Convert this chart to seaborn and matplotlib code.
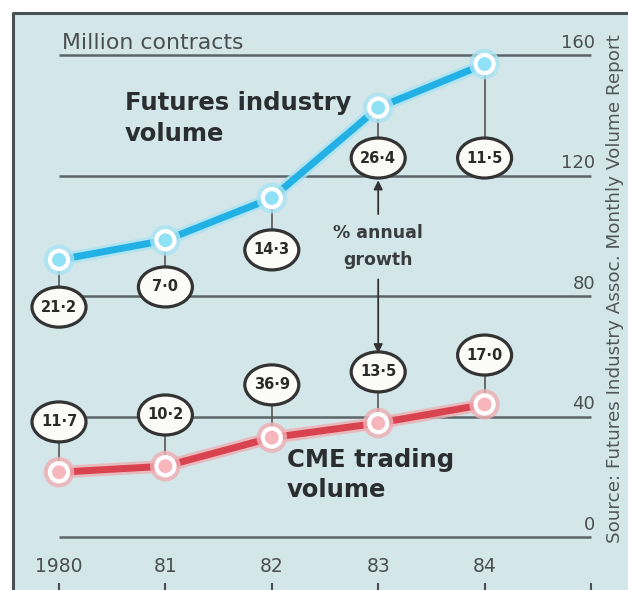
import matplotlib
matplotlib.use("Agg")
import matplotlib.pyplot as plt
import matplotlib.patheffects as pe
from matplotlib.patches import Ellipse, Rectangle
import pandas as pd
import seaborn as sns

# ---- data ----
years = [1980, 1981, 1982, 1983, 1984]
year_labels = ["1980", "81", "82", "83", "84"]
futures_volume = [92.0, 98.5, 112.5, 142.5, 157.0]
cme_volume = [21.5, 23.5, 33.0, 37.8, 44.0]
futures_growth = ["21·2", "7·0", "14·3", "26·4", "11·5"]
cme_growth = ["11·7", "10·2", "36·9", "13·5", "17·0"]
y_ticks = [0, 40, 80, 120, 160]

# ---- layout (bubble centres, in value units) ----
futures_bubble_y = [76.3, 83.0, 95.3, 125.8, 125.8]
cme_bubble_y = [38.2, 40.5, 50.5, 54.8, 60.4]

sns.set_theme(style="white")
plt.rcParams["font.family"] = ["DejaVu Sans"]

W, H = 628, 590
fig = plt.figure(figsize=(W / 100, H / 100), dpi=100)
fig.patch.set_facecolor("white")
ax = fig.add_axes([0, 0, 1, 1])
x0px, pxyr = 59.0, 106.4
y0px, pxu = 537.0, 3.0125
ax.set_xlim(1980 - x0px / pxyr, 1980 + (W - x0px) / pxyr)
ax.set_ylim(-(H - y0px) / pxu, y0px / pxu)
ax.axis("off")

# panel background + border
bx, by = 13 / W, 1 - 13 / H
ax.add_patch(Rectangle((bx, 0), 1 - bx, by, transform=ax.transAxes,
                       facecolor="#d3e6ea", edgecolor="none", zorder=0))
ax.plot([bx, bx, 1], [0, by, by], transform=ax.transAxes, color="#4a5256",
        lw=2.2, zorder=1, solid_capstyle="butt")

grey = "#4a4f52"
# grid lines and value labels
ax.hlines(y_ticks, 1980, 1985, color="#5b6569", lw=1.8, zorder=1)
for v in y_ticks:
    ax.text(1985.04, v + 1.0, str(v), ha="right", va="bottom", fontsize=13,
            color=grey, zorder=2)

ax.text(1980.03, 162.0, "Million contracts", ha="left", va="baseline",
        fontsize=15.8, color=grey, zorder=2)

# x labels and ticks
for yr, lab in zip(years, year_labels):
    ax.text(yr, -9.8, lab, ha="center", va="center", fontsize=13.5,
            color=grey, zorder=2)
ax.vlines(years + [1985], -15.3, -17.6, color=grey, lw=1.5, zorder=2)

# lines
df = pd.DataFrame({
    "year": years * 2,
    "volume": futures_volume + cme_volume,
    "series": ["Futures industry"] * 5 + ["CME"] * 5,
})
palette = {"Futures industry": "#22b1e4", "CME": "#d8434f"}
sns.lineplot(data=df, x="year", y="volume", hue="series", palette=palette,
             lw=5, marker="o", markersize=13, markeredgewidth=3,
             legend=False, ax=ax, zorder=5)
face = {"Futures industry": "#8fe2f6", "CME": "#f7b6bb"}
halo = {"Futures industry": "#a9e3f2", "CME": "#eeb0b4"}
for line, s in zip(ax.get_lines()[-2:], ["Futures industry", "CME"]):
    line.set_markerfacecolor(face[s])
    line.set_path_effects([pe.Stroke(linewidth=9, foreground=halo[s], alpha=0.8),
                           pe.Normal()])

# bubbles
bw, bh = 54 / pxyr, 40 / pxu


def bubble(x, y, txt):
    ax.add_patch(Ellipse((x, y), bw, bh, facecolor="#fbfbf7",
                         edgecolor="#333333", lw=2.3, zorder=6))
    ax.text(x, y, txt, ha="center", va="center", fontsize=10.5,
            fontweight="bold", color="#2a2a2a", zorder=7)


for yr, v, by_, t in zip(years, futures_volume, futures_bubble_y, futures_growth):
    ax.plot([yr, yr], [v, by_ + bh / 2], color="#555", lw=1.2, zorder=4)
    bubble(yr, by_, t)
for yr, v, by_, t in zip(years, cme_volume, cme_bubble_y, cme_growth):
    ax.plot([yr, yr], [v, by_ - bh / 2], color="#555", lw=1.2, zorder=4)
    bubble(yr, by_, t)

# labels
ax.text(1980.62, 148.0, "Futures industry\nvolume", ha="left", va="top",
        fontsize=17.5, fontweight="bold", color="#2b2e30", linespacing=1.35,
        zorder=3)
ax.text(1982.14, 29.5, "CME trading\nvolume", ha="left", va="top",
        fontsize=17.5, fontweight="bold", color="#2b2e30", linespacing=1.3,
        zorder=3)
ax.text(1983.0, 96.4, "% annual\ngrowth", ha="center", va="center",
        fontsize=12.5, fontweight="bold", color="#3a3d40", linespacing=1.6,
        zorder=3)
ax.annotate("", xy=(1983.0, 118.4), xytext=(1983.0, 107.2),
            arrowprops=dict(arrowstyle="-|>", color="#333", lw=1.3,
                            mutation_scale=13, shrinkA=0, shrinkB=0), zorder=4)
ax.annotate("", xy=(1983.0, 61.0), xytext=(1983.0, 85.5),
            arrowprops=dict(arrowstyle="-|>", color="#333", lw=1.3,
                            mutation_scale=13, shrinkA=0, shrinkB=0), zorder=4)

# source
ax.text(1985.225, 82.5, "Source: Futures Industry Assoc. Monthly Volume Report",
        rotation=90, ha="center", va="center", fontsize=13.2,
        color="#50575a", zorder=2)

fig.savefig("out.png", dpi=100, facecolor="white")
